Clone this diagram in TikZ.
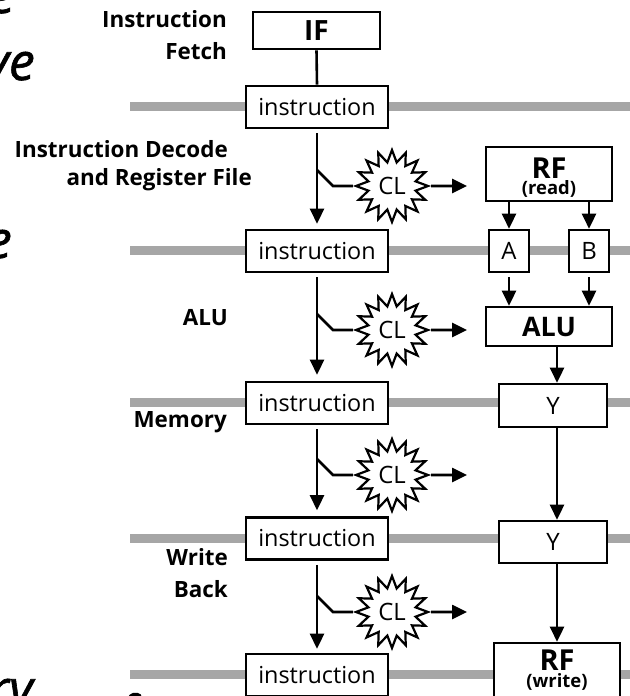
\documentclass[tikz,border=0pt]{standalone}
\usepackage{fontspec}
\setmainfont{Open Sans}
\usetikzlibrary{arrows.meta,shapes.geometric}
\definecolor{barg}{RGB}{166,166,166}
\begin{document}
\begin{tikzpicture}[x=1bp,y=-1bp,
  lw/.style={line width=2.6bp},
  box/.style={draw, lw, fill=white, inner sep=0pt, anchor=center},
  instr/.style={box, minimum width=142bp, minimum height=42bp, font=\fontsize{23.5}{23.5}\selectfont},
  thinbox/.style={box, font=\fontsize{24}{24}\selectfont},
  bar/.style={line width=9bp, color=barg},
  lbl/.style={anchor=base east, inner sep=0pt, font=\bfseries\fontsize{22.5}{22.5}\selectfont},
  arr/.style={lw, -{Triangle[length=15bp,width=14bp]}},
  cl/.style={star, star points=16, star point ratio=1.5, minimum size=72bp, draw, line width=2.2bp, fill=white, inner sep=0pt, font=\fontsize{24}{24}\selectfont},
  frag/.style={anchor=base east, inner sep=0pt, font=\itshape\fontsize{52}{52}\selectfont\addfontfeature{FakeBold=1.2}},
  rfbig/.style={inner sep=0pt, font=\bfseries\fontsize{29}{29}\selectfont},
  rfsmall/.style={inner sep=0pt, font=\bfseries\fontsize{18.5}{18.5}\selectfont}
]
\useasboundingbox (0,0) rectangle (630,696);
\clip (0,0) rectangle (630,696);
\fill[white] (0,0) rectangle (630,696);

% big text fragments cut at the left edge
\node[frag] (f1) at (15,13) {e};
\node[frag] (f2) at (35,80) {ve};
\node[frag] (f3) at (12,258) {e};
\node[frag] (f4) at (33,707) {ry};
\draw[line width=3.5bp, line cap=round] (129,699) .. controls (131,694) and (136,693) .. (140,696);

% pipeline register bars
\foreach \yy in {106.5,250.5,402,538,674}
  \draw[bar] (130,\yy) -- (632,\yy);

% stage labels
\node[lbl] (l1) at (227,28) {Instruction};
\node[lbl] (l2) at (227,60) {Fetch};
\node[lbl] (l3) at (228,157) {Instruction Decode};
\node[lbl] (l4) at (252,185) {and Register File};
\node[lbl] (l5) at (228,325) {ALU};
\node[lbl] (l6) at (227,427) {Memory};
\node[lbl] (l7) at (228,565) {Write};
\node[lbl] (l8) at (228,597) {Back};

% left column
\node[box, minimum width=127bp, minimum height=37bp, font=\bfseries\fontsize{28}{28}\selectfont] (IF) at (316.5,30.5) {IF};
\node[instr] (i1) at (317,107) {instruction};
\node[instr] (i2) at (317,251) {instruction};
\node[instr] (i3) at (317,403) {instruction};
\node[instr] (i4) at (317,538.5) {instruction};
\node[instr] (i5) at (317,675) {instruction};

% combinational logic clouds
\node[cl] (cl1) at (392,186) {CL};
\node[cl] (cl2) at (392,330) {CL};
\node[cl] (cl3) at (392,475) {CL};
\node[cl] (cl4) at (392,612) {CL};

% right column
\node[box, minimum width=126bp, minimum height=54bp] (rfr) at (549,174) {};
\node[rfbig] (rfrT) at (549,168) {RF};
\node[rfsmall] (rfrS) at (549,189) {(read)};
\node[thinbox, minimum width=40bp, minimum height=42bp] (A) at (509,251) {A};
\node[thinbox, minimum width=40bp, minimum height=42bp] (B) at (589,251) {B};
\node[box, minimum width=126bp, minimum height=39bp, font=\bfseries\fontsize{27}{27}\selectfont] (alu) at (549,326.5) {ALU};
\node[thinbox, minimum width=108bp, minimum height=43bp] (y1) at (553,405.5) {Y};
\node[thinbox, minimum width=108bp, minimum height=42bp] (y2) at (553,542) {Y};
\node[box, minimum width=126bp, minimum height=54bp] (rfw) at (557,670) {};
\node[rfbig] (rfwT) at (557,660) {RF};
\node[rfsmall] (rfwS) at (557,682) {(write)};

\coordinate (ycol) at (557,0);

% connectors in the left column
\draw[lw] (IF.south) -- (i1.north);
\draw[arr, shorten <=4bp, shorten >=5bp] (i1.south) -- (i2.north);
\draw[arr, shorten <=4bp, shorten >=6bp] (i2.south) -- (i3.north);
\draw[arr, shorten <=4bp, shorten >=6bp] (i3.south) -- (i4.north);
\draw[arr, shorten <=4bp, shorten >=4bp] (i4.south) -- (i5.north);

% branches into the CL clouds
\coordinate (b1) at (317,170); \coordinate (k1) at (333,186); \coordinate (e1) at (467,186);
\coordinate (b2) at (317,314); \coordinate (k2) at (333,330); \coordinate (e2) at (467,330);
\coordinate (b3) at (317,459); \coordinate (k3) at (333,475); \coordinate (e3) at (467,475);
\coordinate (b4) at (317,596); \coordinate (k4) at (333,612); \coordinate (e4) at (467,612);
\foreach \n in {1,2,3,4}{
  \draw[lw, line join=miter] (b\n) -- (k\n) -- (cl\n.west);
  \draw[arr] (cl\n.east) -- (e\n);
}

% connectors in the right column
\draw[arr] (rfr.south -| A.north) -- (A.north);
\draw[arr] (rfr.south -| B.north) -- (B.north);
\draw[arr, shorten <=4bp] (A.south) -- (A.south |- alu.north);
\draw[arr, shorten <=4bp] (B.south) -- (B.south |- alu.north);
\draw[arr] (alu.south -| ycol) -- (y1.north -| ycol);
\draw[arr] (y1.south -| ycol) -- (y2.north -| ycol);
\draw[arr] (y2.south -| ycol) -- (rfw.north -| ycol);
\end{tikzpicture}
\end{document}
